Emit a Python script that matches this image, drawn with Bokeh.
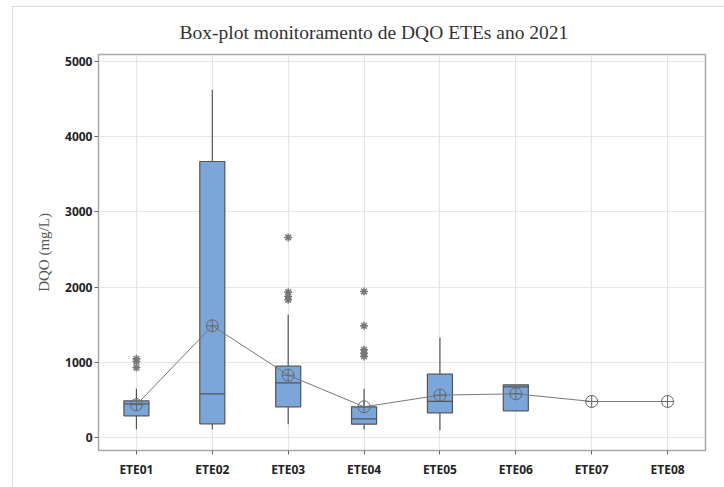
from bokeh.plotting import figure
from bokeh.models import ColumnDataSource, FactorRange, Range1d, FixedTicker, Title
from bokeh.embed import file_html
from bokeh.resources import INLINE

categories = ["ETE01", "ETE02", "ETE03", "ETE04", "ETE05", "ETE06", "ETE07", "ETE08"]
box_cats = ["ETE01", "ETE02", "ETE03", "ETE04", "ETE05", "ETE06"]
q1 = [288, 182, 408, 177, 328, 355]
median = [448, 581, 727, 248, 479, 674]
q3 = [488, 3670, 948, 408, 842, 701]
whisker_low = [110, 110, 177, 106, 97, 355]
whisker_high = [647, 4623, 1631, 647, 1330, 701]
means = [435, 1485, 829, 408, 563, 581, 479, 479]
outlier_cats = ["ETE01", "ETE01", "ETE01",
                "ETE03", "ETE03", "ETE03", "ETE03",
                "ETE04", "ETE04", "ETE04", "ETE04", "ETE04"]
outlier_vals = [1046, 1010, 930,
                2660, 1932, 1875, 1831,
                1941, 1485, 1166, 1121, 1077]
y_ticks = [0, 1000, 2000, 3000, 4000, 5000]

p = figure(x_range=FactorRange(*categories, range_padding=0), y_range=Range1d(-173, 5093),
           width=712, height=481, output_backend="svg", toolbar_location=None,
           min_border_left=85, min_border_right=20, min_border_top=47, min_border_bottom=38)
p.margin = (6, 0, 0, 12)
p.styles = {"border-left": "1px solid #d9d9d9", "border-top": "1px solid #d9d9d9"}

t = Title(text="Box-plot monitoramento de DQO ETEs ano 2021", align="left",
          text_font="Liberation Serif", text_font_size="19.5px", text_font_style="normal",
          text_color="#333333", offset=81, standoff=23)
p.add_layout(t, "above")

p.outline_line_color = "#a6a6a6"
p.outline_line_width = 1.5
p.background_fill_color = "white"
p.border_fill_color = "white"

p.xgrid.grid_line_color = "#e6e6e6"
p.ygrid.grid_line_color = "#e6e6e6"
p.xgrid.grid_line_width = 1.2
p.ygrid.grid_line_width = 1.2

p.yaxis.ticker = FixedTicker(ticks=y_ticks)
p.yaxis.minor_tick_line_color = None
for ax in (p.xaxis[0], p.yaxis[0]):
    ax.axis_line_color = None
    ax.major_tick_line_color = "#666666"
    ax.major_tick_out = 4
    ax.major_tick_in = 0
    ax.major_label_text_font = "Noto Sans"
    ax.major_label_text_font_style = "bold"
    ax.major_label_text_font_size = "12px"
    ax.major_label_text_color = "#222222"
p.yaxis.major_label_standoff = 2
p.xaxis.major_label_standoff = 6
p.yaxis.axis_label = "DQO (mg/L)"
p.yaxis.axis_label_text_font = "Liberation Serif"
p.yaxis.axis_label_text_font_style = "normal"
p.yaxis.axis_label_text_font_size = "15px"
p.yaxis.axis_label_text_color = "#555555"
p.yaxis.axis_label_standoff = 10

box_src = ColumnDataSource(dict(cat=box_cats, q1=q1, med=median, q3=q3,
                                lo=whisker_low, hi=whisker_high))
p.segment(x0="cat", y0="q3", x1="cat", y1="hi", source=box_src, line_color="#555555", line_width=1.2)
p.segment(x0="cat", y0="lo", x1="cat", y1="q1", source=box_src, line_color="#555555", line_width=1.2)
p.vbar(x="cat", bottom="q1", top="q3", width=0.33, source=box_src,
       fill_color="#7ba6d9", line_color="#555555", line_width=1.2)
p.rect(x="cat", y="med", width=0.33, height=0.001, source=box_src,
       fill_color=None, line_color="#555555", line_width=1.2)

mean_src = ColumnDataSource(dict(cat=categories, m=means))
p.line(x="cat", y="m", source=mean_src, line_color="#777777", line_width=1)
p.scatter(x="cat", y="m", source=mean_src, marker="circle_cross", size=12,
          fill_color=None, line_color="#666666", line_width=1)

out_src = ColumnDataSource(dict(cat=outlier_cats, v=outlier_vals))
p.scatter(x="cat", y="v", source=out_src, marker="asterisk", size=8,
          line_color="#777777", line_width=1.5)

open("out.html", "w").write(file_html(p, INLINE))
